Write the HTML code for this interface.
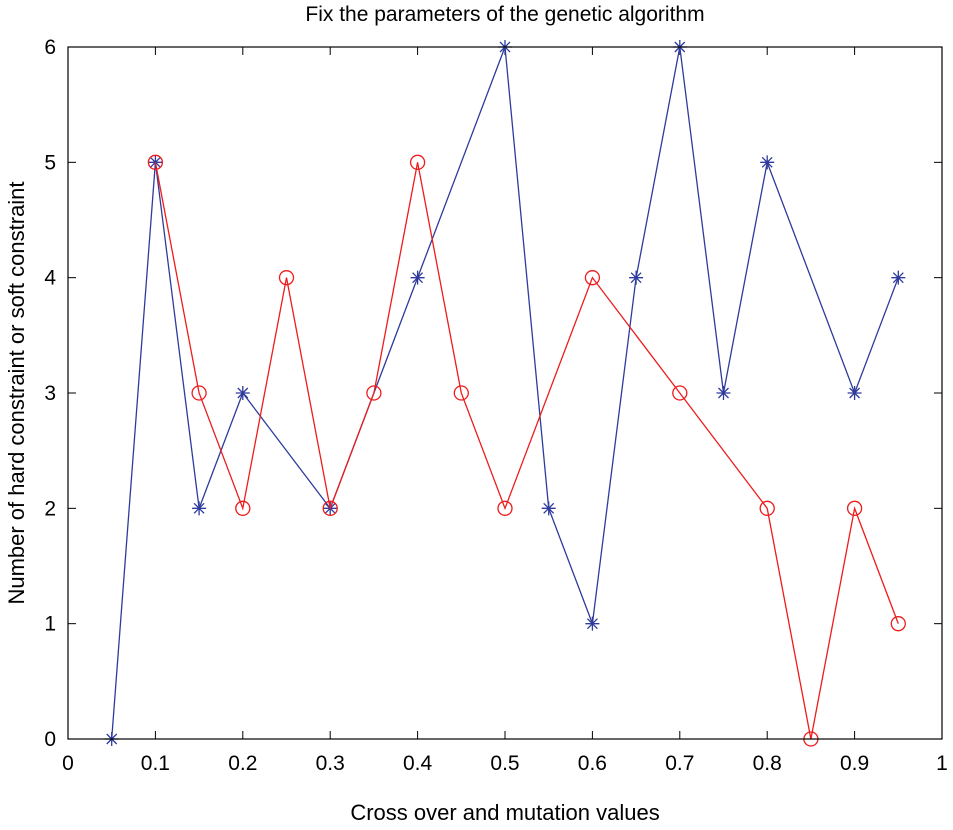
<!DOCTYPE html>
<html><head><meta charset="utf-8"><style>
body{margin:0;background:#fff;}
svg{display:block;font-family:"Liberation Sans",sans-serif;}
</style></head><body>
<svg id="chart" width="953" height="830" viewBox="0 0 953 830" xmlns="http://www.w3.org/2000/svg">
<rect x="0" y="0" width="953" height="830" fill="#fff"/>
<text x="505" y="21" font-size="21" text-anchor="middle">Fix the parameters of the genetic algorithm</text>
<text x="505" y="820" font-size="22" text-anchor="middle">Cross over and mutation values</text>
<text transform="translate(24,393) rotate(-90)" font-size="22" text-anchor="middle">Number of hard constraint or soft constraint</text>
<g id="axes"></g>
<g id="series"></g>
<rect x="68" y="47" width="874" height="692" fill="none" stroke="#000" stroke-width="1.2"/>
</svg>
<script>
const blueX = [0.05,0.1,0.15,0.2,0.3,0.4,0.5,0.55,0.6,0.65,0.7,0.75,0.8,0.9,0.95];
const blueY = [0,5,2,3,2,4,6,2,1,4,6,3,5,3,4];
const redX = [0.1,0.15,0.2,0.25,0.3,0.35,0.4,0.45,0.5,0.6,0.7,0.8,0.85,0.9,0.95];
const redY = [5,3,2,4,2,3,5,3,2,4,3,2,0,2,1];
const xTicks = [0,0.1,0.2,0.3,0.4,0.5,0.6,0.7,0.8,0.9,1];
const xTickLabels = ["0","0.1","0.2","0.3","0.4","0.5","0.6","0.7","0.8","0.9","1"];
const yTicks = [0,1,2,3,4,5,6];
const yTickLabels = ["0","1","2","3","4","5","6"];

const NS = "http://www.w3.org/2000/svg";
const X0=68,X1=942,Y0=739,Y1=47;
function sx(v){return X0+(X1-X0)*v;}
function sy(v){return Y0-(Y0-Y1)*v/6;}
function mk(tag,attrs,parent){const e=document.createElementNS(NS,tag);for(const k in attrs)e.setAttribute(k,attrs[k]);parent.appendChild(e);return e;}
const axes=document.getElementById('axes');
xTicks.forEach((t,i)=>{
  const x=sx(t);
  const a=mk('line',{x1:x,y1:Y0,x2:x,y2:Y0-8,stroke:'#000','stroke-width':1},axes);
  
  
  const b=mk('line',{x1:x,y1:Y1,x2:x,y2:Y1+8,stroke:'#000','stroke-width':1},axes);
  
  
  const l=mk('text',{x:x,y:Y0+31,'font-size':21,'text-anchor':'middle'},axes);
  l.textContent=xTickLabels[i];
  
  
});
yTicks.forEach((t,i)=>{
  const y=sy(t);
  const a=mk('line',{x1:X0,y1:y,x2:X0+8,y2:y,stroke:'#000','stroke-width':1},axes);
  
  
  const b=mk('line',{x1:X1,y1:y,x2:X1-8,y2:y,stroke:'#000','stroke-width':1},axes);
  
  
  const l=mk('text',{x:X0-12,y:y+7,'font-size':21,'text-anchor':'end'},axes);
  l.textContent=yTickLabels[i];
  
  
});
const ser=document.getElementById('series');
function drawSeries(xs,ys,color,marker,name){
  const g=mk('g',{},ser);
  
  
  const pts=xs.map((x,i)=>sx(x)+','+sy(ys[i])).join(' ');
  const pl=mk('polyline',{points:pts,fill:'none',stroke:color,'stroke-width':1.3},g);
  
  
  xs.forEach((x,i)=>{
    const cx=sx(x),cy=sy(ys[i]);
    let m;
    if(marker==='circle'){
      m=mk('circle',{cx:cx,cy:cy,r:7,fill:'none',stroke:color,'stroke-width':1.3},g);
    }else{
      const r=7,d=5;
      m=mk('path',{d:`M${cx-r},${cy}H${cx+r}M${cx},${cy-r}V${cy+r}M${cx-d},${cy-d}L${cx+d},${cy+d}M${cx-d},${cy+d}L${cx+d},${cy-d}`,stroke:color,'stroke-width':1.3,fill:'none'},g);
    }
    
    
  });
}
drawSeries(blueX,blueY,'#2e3b9c','star','blue-series');
drawSeries(redX,redY,'#ee1c1c','circle','red-series');
</script>
</body></html>
